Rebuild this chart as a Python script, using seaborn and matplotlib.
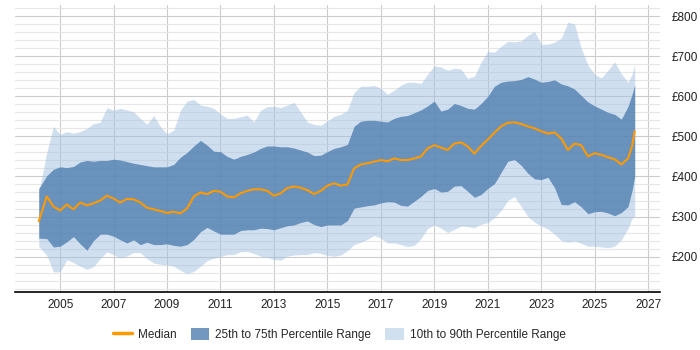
import numpy as np
import pandas as pd
import seaborn as sns
import matplotlib.pyplot as plt
from matplotlib.lines import Line2D
from matplotlib.patches import Patch
from matplotlib.ticker import MultipleLocator, FuncFormatter

# sample dates (fractional years): start, quarterly, then the last few readings
years = np.concatenate([[2004.2], np.arange(2004.5, 2026.26, 0.25), [2026.4, 2026.5]])

median = [288, 350, 325, 315, 330, 318, 335, 328, 333, 340, 352, 345, 335, 344, 343, 335,
          322, 318, 314, 309, 312, 308, 320, 350, 360, 356, 364, 362, 350, 348, 358, 364,
          368, 368, 364, 352, 358, 371, 375, 372, 366, 356, 364, 377, 383, 377, 380, 420,
          430, 433, 437, 441, 438, 445, 441, 441, 445, 450, 470, 478, 472, 466, 482, 485,
          475, 457, 476, 492, 509, 525, 534, 535, 531, 525, 520, 513, 507, 510, 495, 466,
          482, 478, 450, 458, 454, 448, 443, 430, 445, 475, 513]

p75 = [370, 402, 418, 424, 422, 425, 436, 440, 438, 440, 440, 443, 441, 437, 433, 430,
       427, 424, 424, 424, 430, 448, 460, 476, 490, 478, 463, 462, 450, 443, 450, 455,
       461, 470, 476, 476, 474, 474, 471, 466, 461, 452, 453, 462, 470, 474, 480, 525,
       538, 540, 540, 538, 536, 545, 550, 552, 559, 566, 576, 588, 563, 568, 582, 577,
       570, 568, 582, 600, 625, 635, 638, 639, 642, 649, 643, 635, 637, 641, 631, 626,
       618, 602, 586, 576, 568, 560, 555, 543, 575, 605, 629]

p25 = [246, 245, 224, 226, 237, 250, 232, 216, 240, 256, 256, 251, 242, 234, 242, 230,
       236, 230, 230, 232, 228, 226, 230, 243, 262, 273, 264, 256, 256, 256, 265, 267,
       267, 271, 270, 267, 272, 277, 279, 285, 289, 280, 275, 279, 279, 279, 290, 321,
       324, 327, 329, 334, 337, 336, 328, 326, 338, 350, 365, 370, 361, 363, 376, 377,
       363, 348, 355, 370, 382, 410, 438, 442, 428, 408, 394, 392, 398, 372, 330, 329,
       337, 324, 307, 312, 313, 309, 302, 310, 325, 365, 400]

p90 = [360, 460, 525, 505, 512, 508, 512, 520, 532, 535, 572, 565, 570, 566, 561, 545,
       530, 552, 525, 506, 516, 565, 588, 592, 578, 575, 570, 556, 545, 545, 549, 553,
       536, 565, 574, 575, 572, 578, 585, 561, 536, 530, 528, 538, 550, 555, 565, 610,
       625, 625, 627, 620, 605, 615, 628, 635, 635, 632, 655, 676, 673, 665, 670, 668,
       645, 650, 685, 712, 710, 725, 737, 736, 738, 752, 762, 730, 730, 735, 745, 785,
       780, 720, 678, 655, 646, 665, 686, 656, 635, 655, 679]

p10 = [226, 203, 162, 162, 192, 185, 176, 168, 175, 195, 212, 205, 197, 202, 210, 210,
       195, 184, 181, 179, 176, 166, 157, 163, 176, 190, 196, 200, 205, 205, 212, 213,
       208, 201, 198, 193, 191, 201, 204, 205, 205, 210, 208, 203, 201, 204, 215, 230,
       236, 243, 253, 246, 234, 234, 230, 225, 228, 245, 270, 279, 271, 260, 268, 276,
       275, 272, 281, 285, 297, 315, 340, 350, 325, 300, 286, 276, 269, 256, 240, 236,
       239, 233, 226, 226, 224, 222, 226, 242, 270, 295, 300]

xticks = list(range(2005, 2028, 2))

df = pd.DataFrame({"year": years, "median": median, "p25": p25, "p75": p75,
                   "p10": p10, "p90": p90})

sns.set_style("white")
plt.rcParams['font.family'] = ['Liberation Sans', 'DejaVu Sans']

fig, ax = plt.subplots(figsize=(7, 3.5), dpi=100)
fig.subplots_adjust(left=0.021, right=0.943, top=0.986, bottom=0.166)

light = "#a3c1e0"
dark = "#4f7fb0"
orange = "#ff9900"

ax.fill_between(df["year"], df["p10"], df["p90"], color=light, alpha=0.5, lw=0, zorder=2)
ax.fill_between(df["year"], df["p25"], df["p75"], color=dark, alpha=0.8, lw=0, zorder=3)
sns.lineplot(data=df, x="year", y="median", ax=ax, color=orange, lw=1.5, zorder=4)

ax.set_xlim(2003.3, 2027.45)
ax.set_ylim(112, 828)
ax.set_xticks(xticks)
ax.yaxis.set_major_locator(MultipleLocator(100))
ax.yaxis.set_minor_locator(MultipleLocator(20))
ax.yaxis.set_major_formatter(FuncFormatter(lambda v, p: f"£{v:.0f}"))
ax.yaxis.tick_right()
ax.grid(axis="x", color="#cccccc", lw=0.8, zorder=1)
ax.grid(axis="y", which="major", color="#cccccc", lw=0.8, zorder=1)
ax.grid(axis="y", which="minor", color="#e6e6e6", lw=0.8, zorder=1)
ax.set_axisbelow(True)
ax.tick_params(axis="both", which="both", length=0, labelsize=8.5, colors="#222222")
ax.tick_params(axis="y", pad=8)
ax.tick_params(axis="x", pad=5)
ax.set_xlabel("")
ax.set_ylabel("")
for side in ["left", "top", "right"]:
    ax.spines[side].set_visible(False)
ax.spines["bottom"].set_color("black")
ax.spines["bottom"].set_linewidth(1.2)

handles = [Line2D([0], [0], color=orange, lw=2.5),
           Patch(facecolor="#7298bf", edgecolor="none"),
           Patch(facecolor="#d1e0ef", edgecolor="none")]
labels = ["Median", "25th to 75th Percentile Range", "10th to 90th Percentile Range"]
fig.legend(handles, labels, loc="center", bbox_to_anchor=(0.485, 0.045), ncol=3,
           frameon=False, fontsize=8.5, handlelength=1.6, handleheight=1.2,
           columnspacing=1.2, handletextpad=0.5)

fig.savefig("out.png", dpi=100)
